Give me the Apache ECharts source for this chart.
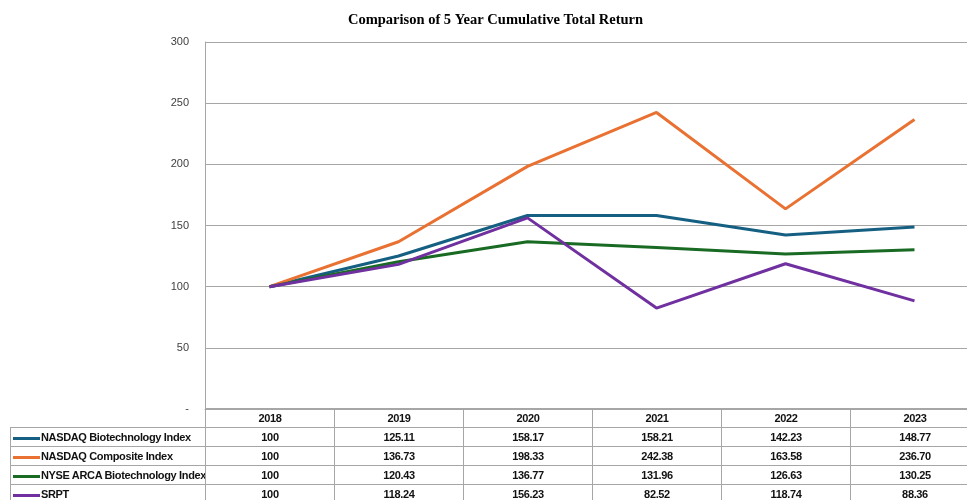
<!DOCTYPE html>
<html>
<head>
<meta charset="utf-8">
<script src="https://cdn.jsdelivr.net/npm/echarts@6/dist/echarts.min.js"></script>
<style>
    body { margin: 0; background: #fff; }
    #wrap { position: relative; width: 967px; height: 500px; overflow: hidden; }
    #main { position: absolute; left: 0; top: 0; width: 1000px; height: 500px; }
    #tbl {
        position: absolute; left: 10px; top: 408px; width: 969px;
        border-collapse: collapse; table-layout: fixed;
        font-family: 'Liberation Sans', Arial, sans-serif;
        font-size: 11px; font-weight: bold; color: #111; letter-spacing: -0.35px;
    }
    #tbl td { border: 1px solid #a6a6a6; height: 18px; padding: 0; text-align: center; white-space: nowrap; overflow: hidden; }
    #tbl td.name { text-align: left; padding-left: 2px; }
    #tbl td.blank { border-top: none; border-left: none; }
    .key { display: inline-block; width: 27px; height: 3px; vertical-align: middle; margin-right: 1px; }
</style>
</head>
<body>
<div id="wrap">
    <div id="main"></div>
    <table id="tbl"></table>
</div>
<script>
const years = ['2018', '2019', '2020', '2021', '2022', '2023'];
const seriesNames = ['NASDAQ Biotechnology Index', 'NASDAQ Composite Index', 'NYSE ARCA Biotechnology Index', 'SRPT'];
const nbi = ['100', '125.11', '158.17', '158.21', '142.23', '148.77'];
const composite = ['100', '136.73', '198.33', '242.38', '163.58', '236.70'];
const arca = ['100', '120.43', '136.77', '131.96', '126.63', '130.25'];
const srpt = ['100', '118.24', '156.23', '82.52', '118.74', '88.36'];
const colors = ['#156082', '#e97132', '#196b24', '#7030a0'];

document.addEventListener('DOMContentLoaded', init);

function init() {
    drawChart();
    buildTable();
}

function drawChart() {
    const rows = [nbi, composite, arca, srpt];
    let myChart = echarts.init(document.getElementById('main'));

    let option = {
        animation: false,
        title: {
            text: 'Comparison of 5 Year Cumulative Total Return',
            left: 343,
            top: 8,
            textStyle: {
                fontFamily: "'Liberation Serif', 'Times New Roman', serif",
                fontSize: 14.5,
                fontWeight: 'bold',
                color: '#000'
            }
        },
        grid: {
            left: 205,
            top: 42,
            width: 774,
            height: 367
        },
        xAxis: {
            type: 'category',
            data: years,
            boundaryGap: true,
            axisLine: { show: true, lineStyle: { color: '#a6a6a6' } },
            axisTick: { show: false },
            axisLabel: { show: false }
        },
        yAxis: {
            type: 'value',
            min: 0,
            max: 300,
            interval: 50,
            axisLine: { show: true, lineStyle: { color: '#a6a6a6' } },
            axisTick: { show: false },
            splitLine: { lineStyle: { color: '#a6a6a6' } },
            axisLabel: {
                margin: 16,
                color: '#404040',
                fontSize: 11,
                fontFamily: "'Liberation Sans', Arial, sans-serif",
                formatter: function (value) {
                    return value === 0 ? '-' : value;  // zero shown as a dash
                }
            }
        },
        series: seriesNames.map((name, i) => ({
            name: name,
            type: 'line',
            data: rows[i].map(Number),
            symbol: 'none',
            lineStyle: { width: 3, color: colors[i] },
            itemStyle: { color: colors[i] }
        }))
    };

    myChart.setOption(option);
}

function buildTable() {
    const rows = [nbi, composite, arca, srpt];
    let html = '<colgroup><col style="width:195px">';
    years.forEach(() => html += '<col style="width:129px">');
    html += '</colgroup>';
    html += '<tr><td class="blank"></td>' + years.map(y => `<td>${y}</td>`).join('') + '</tr>';
    seriesNames.forEach((name, i) => {
        html += `<tr><td class="name"><span class="key" style="background:${colors[i]}"></span>${name}</td>`;
        html += rows[i].map(v => `<td>${v}</td>`).join('') + '</tr>';
    });
    document.getElementById('tbl').innerHTML = html;
}
</script>
</body>
</html>
